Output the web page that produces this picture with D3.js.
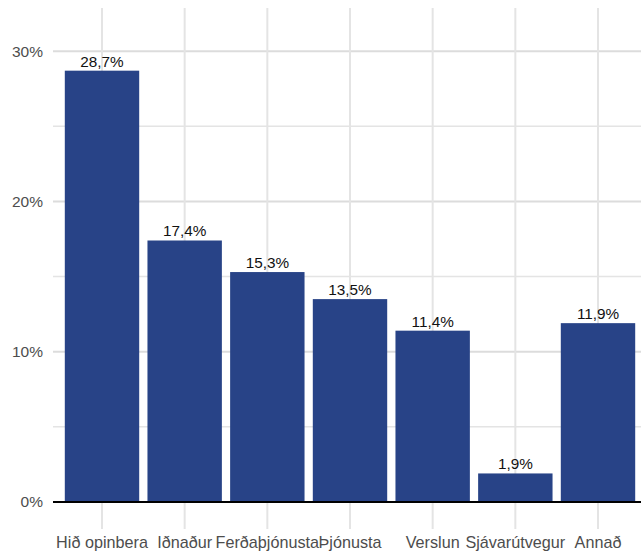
<!DOCTYPE html>
<html><head><meta charset="utf-8">
<script src="https://cdn.jsdelivr.net/npm/d3@7"></script>
<style>body{margin:0;background:#fff}svg{display:block}</style>
</head><body>
<script>
const categories = ["Hið opinbera","Iðnaður","Ferðaþjónusta","Þjónusta","Verslun","Sjávarútvegur","Annað"];
const values = [28.7, 17.4, 15.3, 13.5, 11.4, 1.9, 11.9];
const yTicks = [0, 10, 20, 30];
const yMinor = [5, 15, 25];

const W = 641, H = 558;
const svg = d3.select("body").append("svg").attr("width", W).attr("height", H);
const plotL = 53, plotR = 641, plotT = 8, plotB = 502;
const FONT = "Liberation Sans, Arial, sans-serif";

const x = d3.scaleLinear().domain([-0.6, categories.length - 1 + 0.6]).range([52.4, 647.6]);
const y = d3.scaleLinear().domain([0, 32.87]).range([plotB, plotT]);
const bw = 0.9 * (x(1) - x(0));

const grid = svg.append("g");
grid.selectAll(".hmin").data(yMinor).join("line")
  .attr("x1", plotL).attr("x2", plotR).attr("y1", d => y(d)).attr("y2", d => y(d))
  .attr("stroke", "#e4e4e4").attr("stroke-width", 1.5);
grid.selectAll(".hmaj").data(yTicks).join("line")
  .attr("x1", plotL).attr("x2", plotR).attr("y1", d => y(d)).attr("y2", d => y(d))
  .attr("stroke", "#dcdcdc").attr("stroke-width", 2);
grid.selectAll(".v").data(categories).join("line")
  .attr("x1", (d, i) => x(i)).attr("x2", (d, i) => x(i)).attr("y1", plotT).attr("y2", 529)
  .attr("stroke", "#e4e4e4").attr("stroke-width", 2);

svg.selectAll(".bar").data(values).join("rect")
  .attr("x", (d, i) => x(i) - bw / 2).attr("width", bw)
  .attr("y", d => y(d)).attr("height", d => y(0) - y(d))
  .attr("fill", "#284387");

svg.selectAll(".lbl").data(values).join("text")
  .attr("x", (d, i) => x(i)).attr("y", d => y(d) - 4)
  .attr("text-anchor", "middle").attr("font-family", FONT)
  .attr("font-size", 15.3).attr("fill", "#111")
  .text(d => d.toFixed(1).replace(".", ",") + "%");

svg.append("line").attr("x1", plotL).attr("x2", plotR).attr("y1", y(0)).attr("y2", y(0))
  .attr("stroke", "#000").attr("stroke-width", 2);

svg.selectAll(".yl").data(yTicks).join("text")
  .attr("x", 43).attr("y", d => y(d)).attr("dy", "0.35em")
  .attr("text-anchor", "end").attr("font-family", FONT)
  .attr("font-size", 15.5).attr("fill", "#4d4d4d")
  .text(d => d + "%");

svg.selectAll(".xl").data(categories).join("text")
  .attr("x", (d, i) => x(i)).attr("y", 548)
  .attr("text-anchor", "middle").attr("font-family", FONT)
  .attr("font-size", 16.2).attr("fill", "#4d4d4d")
  .text(d => d);
</script>
</body></html>
